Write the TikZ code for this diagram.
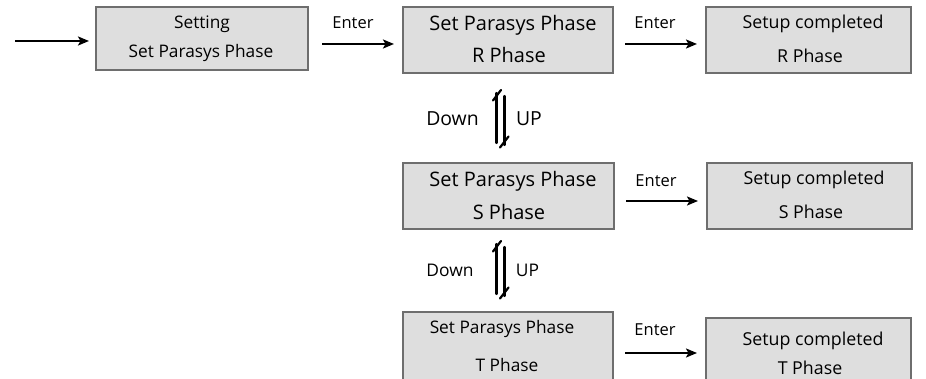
\documentclass[tikz,border=0pt]{standalone}
\usepackage{fontspec}
\setmainfont{Open Sans}
\usetikzlibrary{arrows.meta}
\definecolor{boxfill}{HTML}{DEDEDE}
\definecolor{boxline}{HTML}{6E6E6E}
\begin{document}
\begin{tikzpicture}[x=1pt,y=-1pt,
  box/.style={draw=boxline,fill=boxfill,line width=1.3pt,inner sep=0pt},
  txt/.style={inner sep=0pt,anchor=center},
  fA/.style={font=\fontsize{17.3}{19}\selectfont},
  fB/.style={font=\fontsize{20}{22}\selectfont},
  fC/.style={font=\fontsize{17.8}{19}\selectfont},
  fE/.style={font=\fontsize{16.5}{18}\selectfont},
  arr/.style={line width=2.2pt,-{Stealth[length=11pt,width=9pt,inset=2.5pt]}},
  harp/.style={line width=2.2pt,line cap=round}]
\useasboundingbox (0,0) rectangle (926,379);
% boxes
\path[box] (96,7) rectangle (308,70);
\node[txt,fA] (b1a) at (202,24) {Setting};
\node[txt,fA] (b1b) at (201,53) {Set Parasys Phase};
\node[inner sep=0pt,minimum width=212pt,minimum height=63pt] (b1) at (202,38.5) {};

\path[box] (403,7) rectangle (613,73);
\node[txt,fB] (r1) at (513,25) {Set Parasys Phase};
\node[txt,fB] (r2) at (509,55) {R Phase};
\node[inner sep=0pt,minimum width=210pt,minimum height=66pt] (bR) at (508,40) {};

\path[box] (706,7) rectangle (911,73);
\node[txt,fC] (cr1) at (813,24) {Setup completed};
\node[txt,fC] (cr2) at (810,56) {R Phase};
\node[inner sep=0pt,minimum width=205pt,minimum height=66pt] (cR) at (808.5,40) {};

\path[box] (403,163) rectangle (614,229);
\node[txt,fB] (s1) at (513,181) {Set Parasys Phase};
\node[txt,fB] (s2) at (509,212) {S Phase};
\node[inner sep=0pt,minimum width=211pt,minimum height=66pt] (bS) at (508.5,196) {};

\path[box] (707,163) rectangle (912,229);
\node[txt,fC] (cs1) at (814,180) {Setup completed};
\node[txt,fC] (cs2) at (811,212) {S Phase};
\node[inner sep=0pt,minimum width=205pt,minimum height=66pt] (cS) at (809.5,196) {};

\path[box] (403,312) rectangle (613,385);
\node[txt,fA] (t1) at (502,329) {Set Parasys Phase};
\node[txt,fA] (t2) at (507,365) {T Phase};
\node[inner sep=0pt,minimum width=210pt,minimum height=73pt] (bT) at (508,348.5) {};

\path[box] (706,318) rectangle (911,385);
\node[txt,fC] (ct1) at (813,341) {Setup completed};
\node[txt,fC] (ct2) at (810,368) {T Phase};
\node[inner sep=0pt,minimum width=205pt,minimum height=67pt] (cT) at (808.5,351.5) {};

% entry arrow
\coordinate (start) at (15,41);
\coordinate (stop) at (89,41);
\draw[arr] (start) -- (stop);
% Enter arrows
\coordinate (e1s) at (322,44); \coordinate (e1e) at (394,44);
\draw[arr] (e1s) -- (e1e);
\node[txt,fE] (l1) at (353,23) {Enter};
\coordinate (e2s) at (625,44); \coordinate (e2e) at (697,44);
\draw[arr] (e2s) -- (e2e);
\node[txt,fE] (l2) at (655,23) {Enter};
\coordinate (e3s) at (626,201); \coordinate (e3e) at (698,201);
\draw[arr] (e3s) -- (e3e);
\node[txt,fE] (l3) at (656,181) {Enter};
\coordinate (e4s) at (625,353); \coordinate (e4e) at (697,353);
\draw[arr] (e4s) -- (e4e);
\node[txt,fE] (l4) at (655,330) {Enter};

% harpoons 1
\draw[harp] (496.5,143) -- (496.5,93);
\draw[harp] (501,90) -- (493,100.5);
\draw[harp] (504.5,96) -- (504.5,145);
\draw[harp] (500,147.5) -- (508.5,136.5);
\node[txt,font=\fontsize{19.4}{21}\selectfont] (d1) at (452.5,119) {Down};
\node[txt,font=\fontsize{19.4}{21}\selectfont] (u1) at (529,119) {UP};
% harpoons 2
\draw[harp] (496.5,294) -- (496.5,244);
\draw[harp] (501,241) -- (493,251.5);
\draw[harp] (504.5,247) -- (504.5,296);
\draw[harp] (500,298.5) -- (508.5,287.5);
\node[txt,font=\fontsize{17.4}{19}\selectfont] (d2) at (450,270) {Down};
\node[txt,font=\fontsize{17.4}{19}\selectfont] (u2) at (527.5,270) {UP};
\end{tikzpicture}
\end{document}
